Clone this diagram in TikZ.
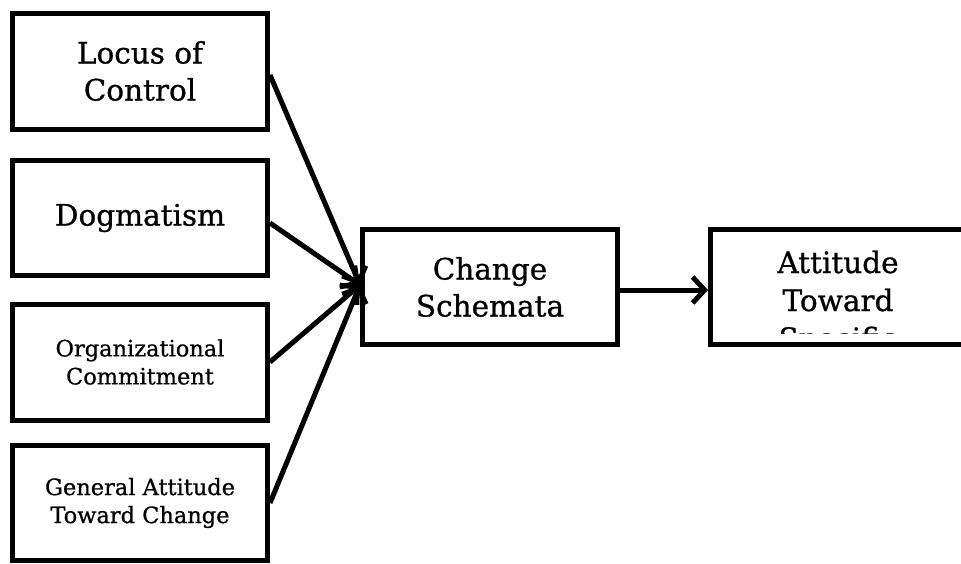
\documentclass[tikz,border=0pt]{standalone}
\usepackage{fontspec}
\setmainfont[FakeBold=0.8]{DejaVu Serif}
\usetikzlibrary{arrows.meta}
\begin{document}
\begin{tikzpicture}[x=1pt,y=-1pt,
  box/.style={draw,line width=5pt,minimum width=255pt,minimum height=116pt,inner sep=0pt,align=center,font=\fontsize{29.5}{37}\selectfont},
  small/.style={font=\fontsize{22.5}{28}\selectfont},
  big/.style={font=\fontsize{29.5}{37}\selectfont},
  arr/.style={line width=5pt,-{Straight Barb[length=12pt,width=26pt]}}]
\useasboundingbox (0,0) rectangle (961,563);
\clip (0,0) rectangle (961,563);
\node[box] (b1) at (140,71) {Locus of\\Control};
\node[box,minimum height=115pt] (b2) at (140,218) {Dogmatism};
\node[box,small] (b3) at (140,362) {Organizational\\Commitment};
\node[box,small,minimum height=115pt] (b4) at (140,503) {General Attitude\\Toward Change};
\node[box,minimum height=115pt] (cs) at (490,287) {Change\\Schemata};
\node[box,minimum height=115pt,minimum width=256pt] (att) at (838.5,287) {};
\begin{scope}
  \clip (713,232) rectangle (964,333);
  \node[big,anchor=base,inner sep=0pt] (t1) at (838,273) {Attitude};
  \node[big,anchor=base,inner sep=0pt] (t2) at (838,311) {Toward};
  \node[big,anchor=base,inner sep=0pt] (t3) at (838,349) {Specific};
\end{scope}
\coordinate (tip) at ([yshift=2pt]cs.west);
\draw[arr] ([yshift=-4pt]b1.east) -- (tip);
\draw[arr] ([yshift=-5pt]b2.east) -- (tip);
\draw[arr] (b3.east) -- (tip);
\draw[arr] (b4.east) -- (tip);
\draw[arr] ([yshift=-3pt]cs.east) -- ([yshift=-3pt]att.west);
\end{tikzpicture}
\end{document}
